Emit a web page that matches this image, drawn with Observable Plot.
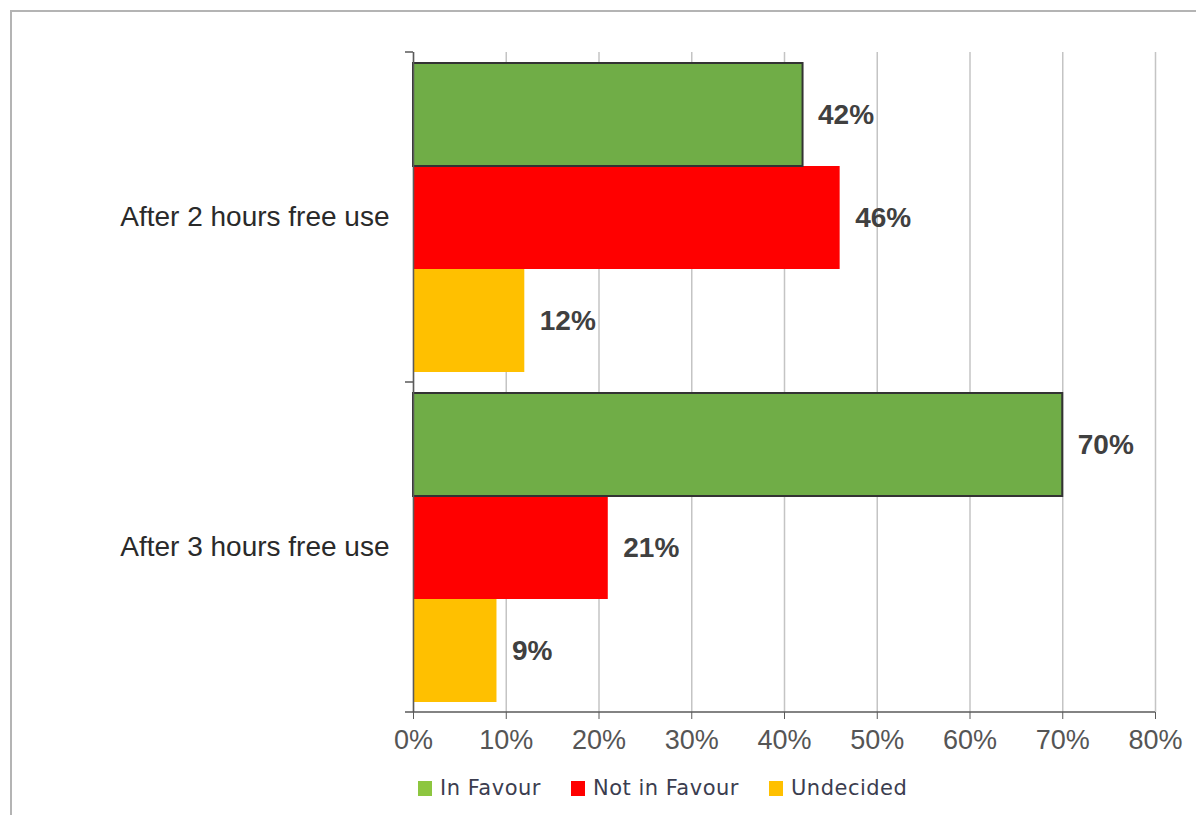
<!DOCTYPE html>
<html>
<head>
<meta charset="utf-8">
<script src="https://cdn.jsdelivr.net/npm/d3@7"></script>
<script src="https://cdn.jsdelivr.net/npm/@observablehq/plot@0.6"></script>
<style>
  html, body { margin: 0; padding: 0; background: #fff; }
  body { width: 1196px; height: 815px; position: relative; overflow: hidden; font-family: "Liberation Sans", Arial, sans-serif; }
  #frame { position: absolute; left: 10px; top: 10px; right: 0; bottom: 0; border-top: 2px solid #b4b4b4; border-left: 2px solid #b4b4b4; }
  #chart { position: absolute; left: 0; top: 0; }
  #legend { position: absolute; left: 418px; top: 776px; display: flex; gap: 30px; align-items: center;
            font-family: "DejaVu Sans", sans-serif; font-size: 21px; letter-spacing: 0.5px; color: #3b3d4f; }
  #legend .item { display: flex; align-items: center; }
  #legend .sw { width: 14px; height: 15px; margin-right: 8px; }
</style>
</head>
<body>
<div id="frame"></div>
<div id="chart"></div>
<div id="legend"></div>
<script>
// Survey answers after a free trial period, in percent
const categories = ["After 2 hours free use", "After 3 hours free use"];
const series = ["In Favour", "Not in Favour", "Undecided"];
const inFavour = [42, 70];
const notInFavour = [46, 21];
const undecided = [12, 9];
const xTicks = [0, 10, 20, 30, 40, 50, 60, 70, 80];
const barColors = ["#70AD47", "#FF0000", "#FFC000"];
const legendColors = ["#8DC640", "#FF0000", "#FFC000"];

const seriesValues = [inFavour, notInFavour, undecided];
const rows = categories.flatMap((category, i) =>
  series.map((s, j) => ({category, series: s, value: seriesValues[j][i]}))
);

const font = "'Liberation Sans', Arial, sans-serif";

const plot = Plot.plot({
  width: 1196,
  height: 768,
  marginLeft: 413,
  marginRight: 41,
  marginTop: 52,
  marginBottom: 56,
  style: {fontFamily: font, fontSize: "28px", background: "transparent", overflow: "visible"},
  x: {domain: [0, 80], axis: null},
  y: {domain: series, paddingInner: 0, paddingOuter: 0.1, axis: null},
  fy: {domain: categories, padding: 0, axis: null},
  color: {domain: series, range: barColors},
  marks: [
    Plot.gridX(xTicks, {stroke: "#c4c4c4", strokeOpacity: 1, strokeWidth: 1.5}),
    Plot.barX(rows.filter(d => d.series !== series[0]), {
      x: "value", y: "series", fy: "category", fill: "series"
    }),
    Plot.barX(rows.filter(d => d.series === series[0]), {
      x: "value", y: "series", fy: "category", fill: "series",
      stroke: "#333333", strokeWidth: 2, inset: 0
    }),
    Plot.text(rows, {
      x: "value", y: "series", fy: "category",
      text: d => d.value + "%", textAnchor: "start", dx: 15,
      fontWeight: "bold", fontSize: 28, fill: "#404040"
    }),
    Plot.ruleX([0], {stroke: "#5a5a5a", strokeWidth: 1.5}),
    Plot.axisX({
      ticks: xTicks, tickFormat: d => d + "%", tickSize: 7, tickPadding: 10,
      stroke: "#5a5a5a", fill: "#555555", fontSize: 27, label: null, facetAnchor: "bottom"
    }),
    Plot.axisFy({
      anchor: "left", tickSize: 0, tickPadding: 24, label: null,
      fill: "#2a2a2a", fontSize: 28
    })
  ]
});

document.getElementById("chart").appendChild(plot);

// Bottom axis line and category boundary ticks, placed with the plot's own scales
const xs = plot.scale("x");
const fys = plot.scale("fy");
const svg = d3.select(plot);
const x0 = xs.apply(0);
const x1 = xs.apply(80);
const bounds = categories.map(c => fys.apply(c));
bounds.push(fys.apply(categories[categories.length - 1]) + fys.bandwidth);
const g = svg.append("g").attr("stroke", "#5a5a5a").attr("stroke-width", 1.5);
g.append("line").attr("x1", x0).attr("x2", x1)
  .attr("y1", bounds[bounds.length - 1]).attr("y2", bounds[bounds.length - 1]);
g.selectAll("line.b").data(bounds).join("line").attr("class", "b")
  .attr("x1", x0 - 8).attr("x2", x0).attr("y1", d => d).attr("y2", d => d);

// Legend below the chart
const legend = d3.select("#legend");
series.forEach((s, i) => {
  const item = legend.append("div").attr("class", "item");
  item.append("div").attr("class", "sw").style("background", legendColors[i]);
  item.append("span").text(s);
});
</script>
</body>
</html>
